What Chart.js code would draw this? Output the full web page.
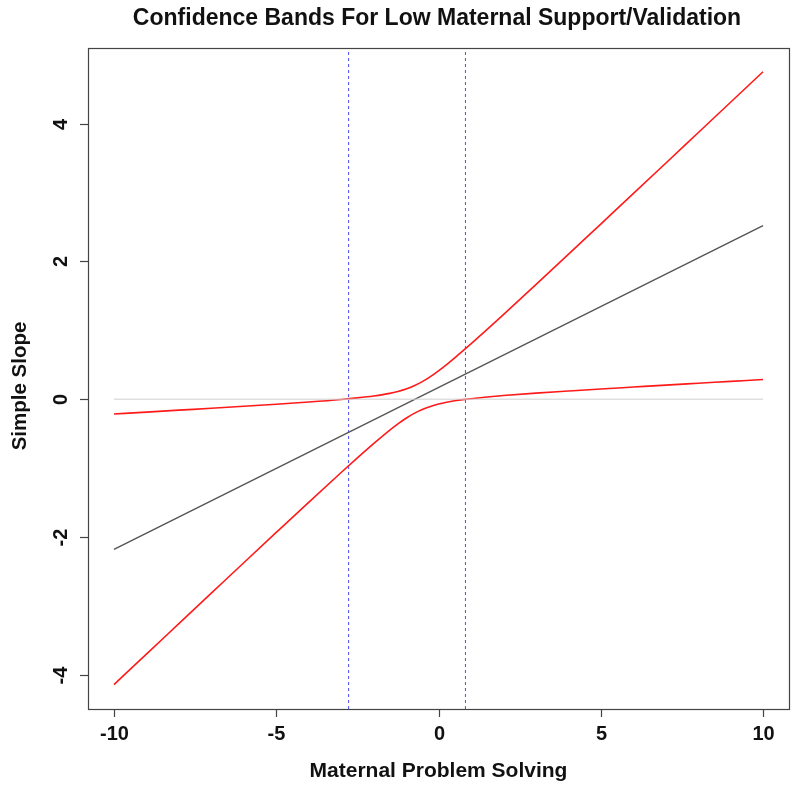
<!DOCTYPE html>
<html>
<head>
<meta charset="utf-8">
<script src="https://cdn.jsdelivr.net/npm/chart.js@4.4.1/dist/chart.umd.min.js"></script>
<style>
  body { margin: 0; background: #fff; }
  #wrap { position: relative; width: 800px; height: 789px; }
</style>
</head>
<body>
<div id="wrap"><canvas id="chart"></canvas></div>
<script>
// values
const xPoints = [-10, -9, -8, -7, -6, -5, -4, -3, -2.5, -2, -1.5, -1.25, -1, -0.75, -0.5, -0.25, 0, 0.25, 0.5, 0.75, 1, 1.5, 2, 3, 4, 5, 6, 7, 8, 9, 10];
const upperBand = [-0.215, -0.188, -0.16, -0.133, -0.104, -0.074, -0.042, -0.005, 0.018, 0.046, 0.084, 0.112, 0.147, 0.194, 0.254, 0.327, 0.411, 0.502, 0.599, 0.7, 0.803, 1.014, 1.228, 1.663, 2.102, 2.543, 2.984, 3.426, 3.869, 4.312, 4.755];
const lowerBand = [-4.145, -3.702, -3.26, -2.818, -2.376, -1.936, -1.498, -1.065, -0.853, -0.646, -0.449, -0.359, -0.277, -0.206, -0.149, -0.105, -0.071, -0.045, -0.024, -0.007, 0.007, 0.031, 0.052, 0.087, 0.118, 0.148, 0.176, 0.204, 0.231, 0.258, 0.285];
const slopeX = [-10, 10];
const slopeY = [-2.18, 2.52];
const zeroX = [-10, 10];
const regionBounds = [-2.77, 0.83];
const xTicks = [-10, -5, 0, 5, 10];
const yTicks = [-4, -2, 0, 2, 4];
const xRange = [-10.8, 10.8];
const yRange = [-4.5, 5.1];

const titleText = "Confidence Bands For Low Maternal Support/Validation";
const xTitle = "Maternal Problem Solving";
const yTitle = "Simple Slope";

const pts = (xs, ys) => xs.map((x, i) => ({ x: x, y: ys[i] }));

const datasets = [
  { data: pts(zeroX, [0, 0]), borderColor: "#cfcfcf", borderWidth: 1 },
  { data: pts(slopeX, slopeY), borderColor: "#555555", borderWidth: 1.4 },
  { data: pts(xPoints, upperBand), borderColor: "#ff1a1a", borderWidth: 1.6, cubicInterpolationMode: "monotone" },
  { data: pts(xPoints, lowerBand), borderColor: "#ff1a1a", borderWidth: 1.6, cubicInterpolationMode: "monotone" }
];
regionBounds.forEach(b => {
  datasets.push({ data: pts([b, b], yRange), borderColor: "#4d4dff", borderWidth: 1, borderDash: [3, 3] });
});

const font = size => "bold " + size + "px 'Liberation Sans', Arial, sans-serif";

// R style frame, ticks and text
const framePlugin = {
  id: "frame",
  afterDraw(chart) {
    const ctx = chart.ctx;
    const a = chart.chartArea;
    const xs = chart.scales.x, ys = chart.scales.y;
    ctx.save();
    ctx.strokeStyle = "#444";
    ctx.lineWidth = 1.2;
    ctx.strokeRect(a.left + 0.5, a.top + 0.5, a.right - a.left, a.bottom - a.top);

    ctx.fillStyle = "#111";
    ctx.font = font(20);
    ctx.textAlign = "center";
    ctx.textBaseline = "middle";
    xTicks.forEach(v => {
      const px = Math.round(xs.getPixelForValue(v)) + 0.5;
      ctx.beginPath();
      ctx.moveTo(px, a.bottom);
      ctx.lineTo(px, a.bottom + 8);
      ctx.stroke();
      ctx.fillText(String(v), px, a.bottom + 25);
    });
    yTicks.forEach(v => {
      const py = Math.round(ys.getPixelForValue(v)) + 0.5;
      ctx.beginPath();
      ctx.moveTo(a.left, py);
      ctx.lineTo(a.left - 8, py);
      ctx.stroke();
      ctx.save();
      ctx.translate(a.left - 27, py);
      ctx.rotate(-Math.PI / 2);
      ctx.fillText(String(v), 0, 0);
      ctx.restore();
    });

    ctx.font = font(21);
    ctx.fillText(xTitle, (a.left + a.right) / 2, 771);
    ctx.save();
    ctx.translate(20, 386);
    ctx.rotate(-Math.PI / 2);
    ctx.font = font(20.5);
    ctx.fillText(yTitle, 0, 0);
    ctx.restore();

    ctx.font = font(23);
    ctx.fillText(titleText, 437, 19);
    ctx.restore();
  }
};

new Chart(document.getElementById("chart"), {
  type: "line",
  data: { datasets: datasets },
  options: {
    responsive: true,
    maintainAspectRatio: false,
    animation: false,
    layout: { padding: { left: 88, right: 11, top: 48, bottom: 80 } },
    elements: { point: { radius: 0 }, line: { fill: false } },
    plugins: { legend: { display: false }, tooltip: { enabled: false } },
    scales: {
      x: { type: "linear", display: false, min: xRange[0], max: xRange[1] },
      y: { type: "linear", display: false, min: yRange[0], max: yRange[1] }
    }
  },
  plugins: [framePlugin]
});
</script>
</body>
</html>
